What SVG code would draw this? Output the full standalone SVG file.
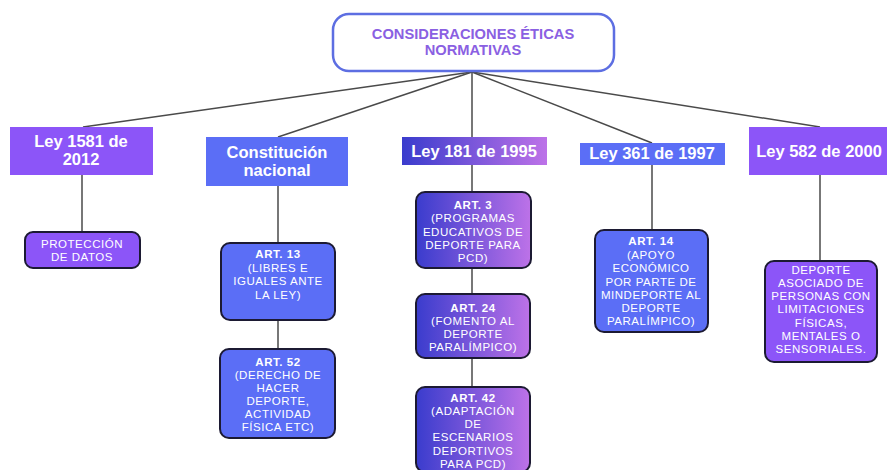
<svg xmlns="http://www.w3.org/2000/svg" width="887" height="470" viewBox="0 0 887 470">
<defs>
<linearGradient id="g" x1="0" y1="0" x2="1" y2="0">
<stop offset="0" stop-color="#3a3ccd"/>
<stop offset="1" stop-color="#bd72e8"/>
</linearGradient>
<style>
text{font-family:"Liberation Sans",Arial,sans-serif;text-anchor:middle;fill:#fff}
.h{font-weight:bold;font-size:16.5px}
.t{font-size:11.5px;letter-spacing:0.55px}
.b{font-weight:bold}
.purple{fill:#8c55f8}
.blue{fill:#5b6ef6}
.grad{fill:url(#g)}
.box{stroke:#1c1a33;stroke-width:2}
.ln{stroke:#4a4a4a;stroke-width:1.5;fill:none}
</style>
</defs>
<rect width="887" height="470" fill="#fff"/>
<g id="connectors">
<line class="ln" x1="472" y1="72" x2="83" y2="127"/>
<line class="ln" x1="472" y1="72" x2="278" y2="137"/>
<line class="ln" x1="472" y1="72" x2="472" y2="137"/>
<line class="ln" x1="472" y1="72" x2="652" y2="143"/>
<line class="ln" x1="472" y1="72" x2="820" y2="127"/>
<line class="ln" x1="82" y1="175" x2="82" y2="232"/>
<line class="ln" x1="278" y1="186" x2="278" y2="243"/>
<line class="ln" x1="278" y1="320" x2="278" y2="349"/>
<line class="ln" x1="472" y1="165" x2="472" y2="192"/>
<line class="ln" x1="472" y1="268" x2="472" y2="294"/>
<line class="ln" x1="472" y1="358" x2="472" y2="387"/>
<line class="ln" x1="652" y1="165" x2="652" y2="230"/>
<line class="ln" x1="820" y1="175" x2="820" y2="261"/>
</g>
<g id="root">
<rect x="333" y="14" width="281" height="57" rx="16" fill="#fff" stroke="#5d6ee2" stroke-width="2.5"/>
<text x="473" y="39" style="font-weight:bold;font-size:14.7px;fill:#8a60e2">CONSIDERACIONES ÉTICAS</text>
<text x="473" y="55" style="font-weight:bold;font-size:14.7px;fill:#8a60e2">NORMATIVAS</text>
</g>
<g id="ley1581">
<rect class="purple" x="10" y="127" width="143" height="48"/>
<text class="h" x="81" y="147">Ley 1581 de</text>
<text class="h" x="81" y="165">2012</text>
</g>
<g id="constitucion">
<rect class="blue" x="206" y="137" width="142" height="49"/>
<text class="h" x="277" y="158">Constitución</text>
<text class="h" x="277" y="176">nacional</text>
</g>
<g id="ley181">
<rect class="grad" x="402" y="137" width="145" height="28"/>
<text class="h" x="474" y="157">Ley 181 de 1995</text>
</g>
<g id="ley361">
<rect class="blue" x="580" y="143" width="145" height="22"/>
<text class="h" x="652" y="159">Ley 361 de 1997</text>
</g>
<g id="ley582">
<rect class="purple" x="749" y="127" width="145" height="48"/>
<text class="h" x="819" y="157">Ley 582 de 2000</text>
</g>
<g id="proteccion">
<rect class="purple box" x="25" y="232" width="115" height="36" rx="8"/>
<text class="t" x="82" y="248">PROTECCIÓN</text>
<text class="t" x="82" y="261">DE DATOS</text>
</g>
<g id="art13">
<rect class="blue box" x="221" y="243" width="114" height="77" rx="9"/>
<text class="t b" x="278" y="258">ART. 13</text>
<text class="t" x="278" y="272">(LIBRES E</text>
<text class="t" x="278" y="285">IGUALES ANTE</text>
<text class="t" x="278" y="299">LA LEY)</text>
</g>
<g id="art52">
<rect class="blue box" x="220" y="349" width="115" height="89" rx="9"/>
<text class="t b" x="278" y="366">ART. 52</text>
<text class="t" x="278" y="379">(DERECHO DE</text>
<text class="t" x="278" y="392">HACER</text>
<text class="t" x="278" y="405">DEPORTE,</text>
<text class="t" x="278" y="418">ACTIVIDAD</text>
<text class="t" x="278" y="431">FÍSICA ETC)</text>
</g>
<g id="art3">
<rect class="grad box" x="416" y="192" width="115" height="76" rx="9"/>
<text class="t b" x="473" y="209">ART. 3</text>
<text class="t" x="473" y="222">(PROGRAMAS</text>
<text class="t" x="473" y="235.5">EDUCATIVOS DE</text>
<text class="t" x="473" y="249">DEPORTE PARA</text>
<text class="t" x="473" y="262">PCD)</text>
</g>
<g id="art24">
<rect class="grad box" x="416" y="294" width="114" height="64" rx="9"/>
<text class="t b" x="473" y="312">ART. 24</text>
<text class="t" x="473" y="325">(FOMENTO AL</text>
<text class="t" x="473" y="338">DEPORTE</text>
<text class="t" x="473" y="351">PARALÍMPICO)</text>
</g>
<g id="art42">
<rect class="grad box" x="416" y="387" width="114" height="85" rx="9"/>
<text class="t b" x="473" y="402">ART. 42</text>
<text class="t" x="473" y="415">(ADAPTACIÓN</text>
<text class="t" x="473" y="428">DE</text>
<text class="t" x="473" y="441">ESCENARIOS</text>
<text class="t" x="473" y="454.5">DEPORTIVOS</text>
<text class="t" x="473" y="468">PARA PCD)</text>
</g>
<g id="art14">
<rect class="blue box" x="595" y="230" width="113" height="102" rx="9"/>
<text class="t b" x="651" y="245">ART. 14</text>
<text class="t" x="651" y="258.5">(APOYO</text>
<text class="t" x="651" y="272">ECONÓMICO</text>
<text class="t" x="651" y="285.5">POR PARTE DE</text>
<text class="t" x="651" y="299">MINDEPORTE AL</text>
<text class="t" x="651" y="312">DEPORTE</text>
<text class="t" x="651" y="325">PARALÍMPICO)</text>
</g>
<g id="deporte">
<rect class="purple box" x="765" y="261" width="112" height="101" rx="9"/>
<text class="t" x="821" y="274">DEPORTE</text>
<text class="t" x="821" y="287">ASOCIADO DE</text>
<text class="t" x="821" y="300">PERSONAS CON</text>
<text class="t" x="821" y="313">LIMITACIONES</text>
<text class="t" x="821" y="326.5">FÍSICAS,</text>
<text class="t" x="821" y="340">MENTALES O</text>
<text class="t" x="821" y="353">SENSORIALES.</text>
</g>
</svg>
